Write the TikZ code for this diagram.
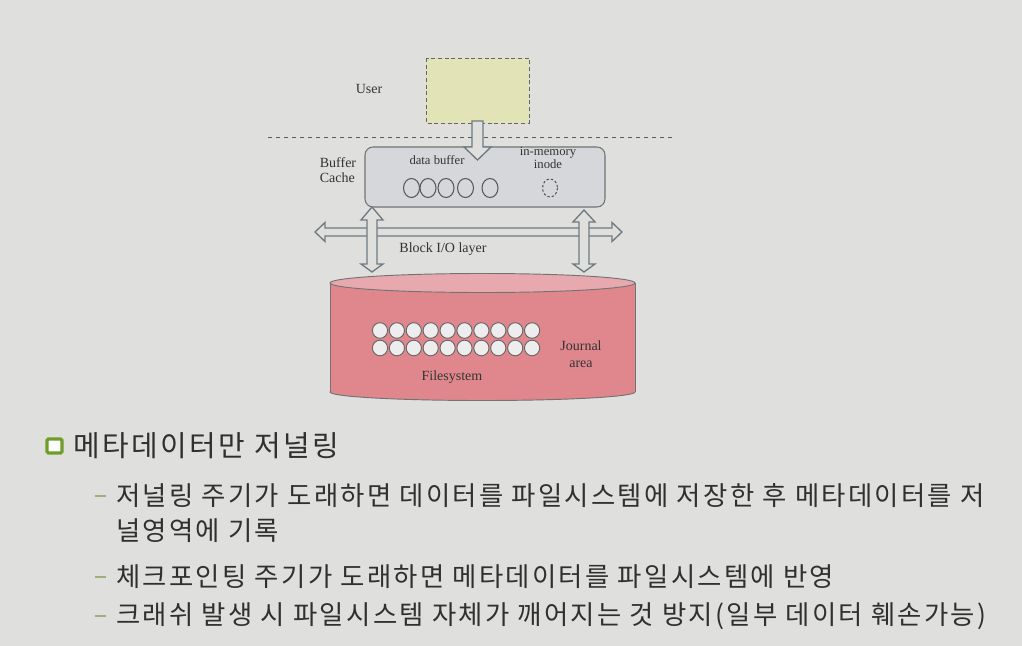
\documentclass[tikz,border=0pt]{standalone}
\usepackage{fontspec}
\setmainfont{Liberation Serif}
\newfontfamily\kor[LetterSpace=8.6]{Noto Sans CJK KR}
\usepackage{tikz}
\usetikzlibrary{positioning}
\definecolor{slidebg}{HTML}{DFDFDD}
\definecolor{userfill}{HTML}{E3E3B8}
\definecolor{cachefill}{HTML}{D6D7DB}
\definecolor{diskfill}{HTML}{E0878E}
\definecolor{disktop}{HTML}{E7A9AE}
\definecolor{arrowline}{HTML}{6F7A80}
\definecolor{bulletgreen}{HTML}{6E9E2A}
\definecolor{dashgreen}{HTML}{9DB07E}
\definecolor{textgray}{HTML}{303030}
\tikzset{
  lbl/.style={font=\fontsize{10.5}{12}\selectfont, text=black!80, inner sep=0pt, align=center},
  smalllbl/.style={font=\fontsize{9.5}{8.5}\selectfont, text=black!80, inner sep=0pt, align=center},
  hollow/.style={draw=arrowline, line width=1pt, fill=slidebg, line join=miter},
  slot/.style={draw=black!65, line width=0.8pt},
  diskslot/.style={draw=black!60, fill=white!93!black, line width=0.7pt},
  kortext/.style={font=\kor\fontsize{19.8}{24}\selectfont, text=textgray, anchor=west, inner sep=0pt},
  kortitle/.style={font=\kor\fontsize{21.7}{26}\selectfont, text=textgray, anchor=west, inner sep=0pt}
}

\begin{document}
\begin{tikzpicture}[x=0.75pt,y=-0.75pt]
    \fill[slidebg] (0,0) rectangle (1022,646); % slide background
    \useasboundingbox (0,0) rectangle (1022,646);
    \draw[dashed,black!65,line width=0.6pt] (268,137) -- (672,137); % user / kernel border
    \draw[densely dashed,black!60,fill=userfill,line width=0.7pt] (426,58) rectangle (529,123); % user area
    \node[lbl] (user) at (369,89) {User}; % User label
    \draw[black!55,fill=cachefill,rounded corners=6pt,line width=0.8pt] (365,147) rectangle (605,207); % buffer cache
    \draw[hollow] (472,121) -- (483,121) -- (483,147) -- (491,147) -- (477.5,160) -- (464,147) -- (472,147) -- cycle; % write arrow
    \node[lbl,align=left] (cache) at (338,170) {Buffer\\[-1pt]Cache}; % cache label
    \node[smalllbl] (databuf) at (437,160) {data buffer}; % data buffer label
    \node[smalllbl] (inode) at (548,158) {in-memory\\inode}; % inode label
    \foreach \x in {411.5,428,446,465.5,490}
        \draw[slot] (\x,188) ellipse [x radius=8, y radius=9.5]; % buffers
    \draw[slot,dash pattern=on 1.8pt off 1.5pt] (550,188) ellipse [x radius=7.5, y radius=9]; % inode slot
    \draw[hollow] (315,232) -- (325,222.5) -- (325,228) -- (612,228) -- (612,222.5) -- (622,232) -- (612,241.5) -- (612,236) -- (325,236) -- (325,241.5) -- cycle; % Block I/O bus
    \draw[hollow] (372,207) -- (383,220) -- (377,220) -- (377,264) -- (383,264) -- (372,272) -- (361,264) -- (367,264) -- (367,220) -- (361,220) -- cycle; % left link
    \draw[hollow] (584,210) -- (595,222) -- (589,222) -- (589,264) -- (595,264) -- (584,272) -- (573,264) -- (579,264) -- (579,222) -- (573,222) -- cycle; % right link
    \node[lbl] (bio) at (443,249) {Block I/O layer}; % layer label
    \filldraw[draw=black!55,fill=diskfill,line width=0.7pt] (482.5,392) ellipse [x radius=152.5, y radius=8.5]; % disk bottom
    \fill[diskfill] (330,283) rectangle (635,392); % disk body
    \draw[black!55,line width=0.7pt] (330,283) -- (330,392) (635,283) -- (635,392); % disk sides
    \filldraw[draw=black!55,fill=disktop,line width=0.7pt] (482.5,283) ellipse [x radius=152.5, y radius=9.5]; % disk top
    \foreach \i in {0,...,9}
        \foreach \y in {330.5,348}
            \draw[diskslot] (380+16.9*\i,\y) ellipse [x radius=7.6, y radius=7.8]; % fs blocks
    \node[lbl] (fs) at (452,377) {Filesystem}; % Filesystem label
    \node[lbl] (journal) at (581,354) {Journal\\[1pt]area}; % Journal label
    \draw[bulletgreen,fill=white!90!slidebg,line width=2.4pt,rounded corners=1pt] (47,439) rectangle (62,453); % bullet
    \node[kortitle] (title) at (73,446) {메타데이터만 저널링};
    \foreach \y in {496,577,616}
        \draw[dashgreen,line width=1.3pt] (95,\y) -- (106,\y); % item dashes
    \node[kortext] (item1) at (116,496) {저널링 주기가 도래하면 데이터를 파일시스템에 저장한 후 메타데이터를 저};
    \node[kortext] (item1b) at (116,531) {널영역에 기록};
    \node[kortext] (item2) at (116,577) {체크포인팅 주기가 도래하면 메타데이터를 파일시스템에 반영};
    \node[kortext] (item3) at (116,616) {크래쉬 발생 시 파일시스템 자체가 깨어지는 것 방지(일부 데이터 훼손가능)};
\end{tikzpicture}
\end{document}
